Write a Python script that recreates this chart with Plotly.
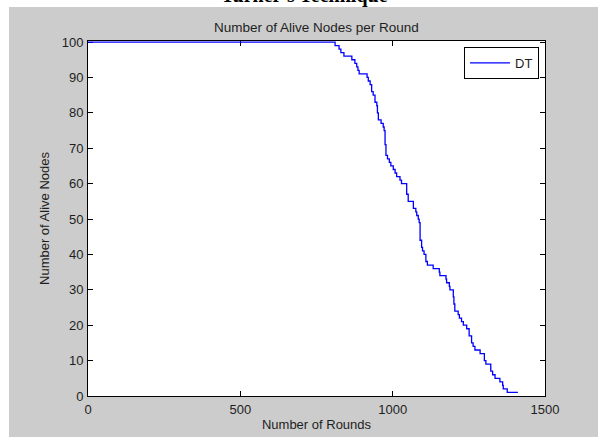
import plotly.graph_objects as go

# Round at which the alive-node count changes, and the new count
rounds = [0, 811, 824, 830, 840, 866, 876, 882, 886, 890, 916, 920, 926, 931, 936,
          942, 948, 950, 953, 962, 969, 972, 975, 978, 983, 989, 994, 1002, 1008,
          1013, 1024, 1029, 1046, 1051, 1068, 1076, 1079, 1084, 1087, 1090, 1095,
          1098, 1103, 1109, 1114, 1133, 1153, 1155, 1175, 1177, 1186, 1188, 1199,
          1201, 1204, 1215, 1219, 1226, 1232, 1243, 1251, 1259, 1264, 1270, 1287,
          1301, 1306, 1322, 1328, 1336, 1352, 1361, 1363, 1376, 1411]
alive = [100, 99, 98, 97, 96, 95, 94, 93, 92, 91, 90, 89, 88, 86, 85,
         83, 82, 80, 78, 77, 76, 75, 71, 68, 67, 66, 65, 64, 63,
         62, 61, 60, 57, 55, 53, 52, 51, 50, 49, 44, 42,
         41, 40, 38, 37, 36, 35, 34, 33, 32, 31, 30, 28,
         26, 24, 23, 22, 21, 20, 19, 17, 15, 14, 13, 12,
         10, 9, 7, 6, 5, 4, 3, 2, 1, 1]

x_ticks = [0, 500, 1000, 1500]
y_ticks = list(range(0, 101, 10))

W, H = 598, 437
L, R, T, B = 88, 545, 41, 396   # plot area in pixels
pw, ph = R - L, B - T


def px_x(x):
    return (x - L) / pw


def px_y(y):
    return (B - y) / ph


FONT = "Liberation Sans, Arial, sans-serif"
TXT = "#1e1e1e"
GRAY = "#cccccc"

fig = go.Figure()
fig.add_trace(go.Scatter(
    x=rounds, y=alive, mode="lines", name="DT",
    line=dict(color="#0000ff", width=1.3, shape="hv"),
    cliponaxis=False,
))

axis_common = dict(
    showline=True, linecolor="black", linewidth=1, mirror="ticks",
    ticks="inside", ticklen=5, tickcolor="black", tickwidth=1,
    showgrid=False, zeroline=False, layer="below traces", automargin=False,
    tickfont=dict(family=FONT, size=13, color=TXT),
)

fig.update_layout(
    width=W, height=H,
    margin=dict(l=L, r=W - R, t=T, b=H - B, pad=0, autoexpand=False),
    paper_bgcolor=GRAY, plot_bgcolor="white",
    xaxis=dict(range=[0, 1500], tickvals=x_ticks, ticktext=[str(v) for v in x_ticks],
               ticklabelstandoff=1,
               title=dict(text="Number of Rounds", font=dict(family=FONT, size=13, color=TXT),
                          standoff=4),
               **axis_common),
    yaxis=dict(range=[0, 100.3], tickvals=y_ticks, ticktext=[str(v) for v in y_ticks],
               ticklabelstandoff=1,
               title=dict(text="Number of Alive Nodes", font=dict(family=FONT, size=13, color=TXT),
                          standoff=9),
               **axis_common),
    showlegend=True,
    legend=dict(x=px_x(539), y=px_y(47), xanchor="right", yanchor="top",
                bgcolor="white", bordercolor="black", borderwidth=1,
                font=dict(family=FONT, size=13, color=TXT),
                itemwidth=40, tracegroupgap=0),
    shapes=[
        # white strip above and to the left of the figure window
        dict(type="rect", xref="paper", yref="paper", layer="below",
             x0=px_x(-5), x1=px_x(W + 5), y0=px_y(7), y1=px_y(-5),
             fillcolor="white", line=dict(width=0)),
        dict(type="rect", xref="paper", yref="paper", layer="below",
             x0=px_x(-5), x1=px_x(9), y0=px_y(H + 5), y1=px_y(-5),
             fillcolor="white", line=dict(width=0)),
    ],
    annotations=[
        dict(text="Number of Alive Nodes per Round", xref="paper", yref="paper",
             x=0.5, y=px_y(27), xanchor="center", yanchor="middle", showarrow=False,
             font=dict(family=FONT, size=13.5, color=TXT)),
        dict(text="<b>Turner's Technique</b>", xref="paper", yref="paper",
             x=px_x(304), y=px_y(9), xanchor="center", yanchor="bottom", showarrow=False,
             font=dict(family="Liberation Serif, Times New Roman, serif", size=20, color="black")),
    ],
)

fig.write_html("out.html")
